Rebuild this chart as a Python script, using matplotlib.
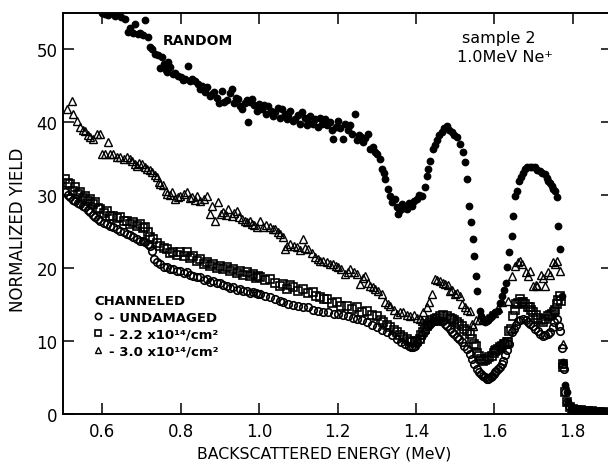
import matplotlib
matplotlib.use('Agg')
import matplotlib.pyplot as plt

# RANDOM spectrum (filled dots)
rand_e = [0.600, 0.608, 0.615, 0.622, 0.633, 0.640, 0.648, 0.659, 0.666, 0.672,
          0.678, 0.684, 0.690, 0.697, 0.703, 0.710, 0.717, 0.722, 0.728, 0.735,
          0.741, 0.748, 0.753, 0.758, 0.762, 0.766, 0.768, 0.774, 0.780, 0.786,
          0.794, 0.800, 0.806, 0.811, 0.819, 0.824, 0.830, 0.837, 0.843, 0.849,
          0.855, 0.862, 0.868, 0.874, 0.880, 0.886, 0.893, 0.899, 0.906, 0.911,
          0.918, 0.925, 0.931, 0.937, 0.942, 0.947, 0.952, 0.957, 0.963, 0.968,
          0.972, 0.977, 0.982, 0.988, 0.994, 1.000, 1.008, 1.013, 1.018, 1.023,
          1.030, 1.036, 1.041, 1.047, 1.053, 1.059, 1.065, 1.070, 1.074, 1.080,
          1.086, 1.092, 1.098, 1.104, 1.110, 1.116, 1.121, 1.125, 1.131, 1.137,
          1.143, 1.149, 1.155, 1.161, 1.168, 1.174, 1.180, 1.186, 1.189, 1.195,
          1.201, 1.207, 1.214, 1.220, 1.226, 1.232, 1.238, 1.245, 1.250, 1.255,
          1.260, 1.265, 1.270, 1.278, 1.283, 1.290, 1.296, 1.300, 1.308, 1.313,
          1.318, 1.321, 1.329, 1.334, 1.340, 1.347, 1.351, 1.354, 1.359, 1.364,
          1.370, 1.377, 1.383, 1.390, 1.396, 1.403, 1.409, 1.415, 1.423, 1.428,
          1.432, 1.436, 1.443, 1.448, 1.454, 1.460, 1.466, 1.472, 1.479, 1.485,
          1.492, 1.498, 1.504, 1.512, 1.520, 1.525, 1.530, 1.535, 1.540, 1.545,
          1.548, 1.553, 1.555, 1.563, 1.567, 1.571, 1.576, 1.581, 1.585, 1.589,
          1.593, 1.596, 1.602, 1.609, 1.614, 1.619, 1.625, 1.629, 1.632, 1.637,
          1.645, 1.647, 1.652, 1.657, 1.662, 1.668, 1.673, 1.678, 1.684, 1.690,
          1.697, 1.703, 1.710, 1.716, 1.722, 1.729, 1.734, 1.736, 1.741, 1.746,
          1.750, 1.754, 1.759, 1.762, 1.767, 1.772, 1.776, 1.781, 1.785, 1.789,
          1.795, 1.800, 1.810, 1.820, 1.830, 1.840, 1.850, 1.860, 1.870, 1.880]
rand_y = [55.0, 54.8, 54.7, 55.0, 54.6, 54.8, 54.5, 54.2, 52.4, 53.0,
          52.3, 53.5, 52.1, 52.2, 52.0, 54.0, 51.7, 50.4, 50.0, 49.4,
          49.2, 47.4, 49.0, 48.0, 47.2, 46.9, 48.3, 47.6, 46.6, 46.8,
          46.4, 46.2, 45.8, 46.0, 47.7, 45.6, 45.9, 45.7, 45.3, 44.6,
          45.0, 44.2, 44.8, 43.6, 43.9, 44.2, 43.4, 42.6, 44.3, 42.8,
          43.0, 44.0, 44.6, 42.6, 43.4, 43.2, 42.2, 41.8, 42.6, 43.0,
          40.0, 42.8, 43.2, 42.4, 41.6, 42.5, 41.8, 42.4, 41.2, 42.2,
          41.6, 40.8, 41.4, 42.0, 40.6, 41.8, 41.2, 40.4, 40.9, 41.6,
          40.2, 40.5, 41.0, 39.8, 41.4, 40.6, 39.6, 40.0, 40.8, 39.8,
          40.5, 39.4, 40.6, 39.7, 40.5, 39.6, 40.0, 38.9, 37.7, 39.4,
          40.2, 39.2, 37.7, 39.8, 38.9, 39.6, 38.4, 41.1, 37.5, 38.2,
          38.0, 37.3, 37.8, 38.4, 36.3, 36.6, 35.9, 35.6, 35.0, 33.6,
          33.0, 32.2, 30.9, 29.9, 29.0, 29.5, 28.4, 27.4, 28.0, 28.8,
          28.2, 28.1, 28.9, 28.5, 29.2, 29.5, 30.0, 29.9, 31.1, 32.6,
          33.6, 34.7, 36.3, 36.9, 37.5, 38.2, 38.7, 39.2, 39.5, 38.9,
          38.7, 38.3, 38.0, 37.0, 35.9, 34.6, 32.2, 28.5, 26.3, 24.0,
          21.7, 18.9, 16.8, 14.1, 13.4, 13.0, 12.6, 12.7, 12.9, 13.2,
          13.4, 13.7, 13.9, 14.1, 15.2, 16.2, 17.0, 18.0, 20.1, 22.2,
          24.4, 27.1, 29.9, 30.6, 31.9, 32.5, 33.1, 33.6, 33.8, 33.8,
          33.9, 33.8, 33.5, 33.3, 33.1, 32.9, 32.4, 31.9, 31.6, 31.3,
          30.9, 30.6, 29.7, 25.8, 22.6, 16.2, 7.1, 4.0, 3.0, 1.6,
          0.9, 0.6, 0.5, 0.5, 0.4, 0.4, 0.4, 0.3, 0.3, 0.3]

# channeled, undamaged (open circles)
und_e = [0.506, 0.512, 0.518, 0.525, 0.531, 0.538, 0.544, 0.550, 0.557, 0.563,
         0.569, 0.576, 0.582, 0.589, 0.595, 0.604, 0.613, 0.620, 0.628, 0.637,
         0.646, 0.655, 0.664, 0.672, 0.679, 0.688, 0.697, 0.703, 0.710, 0.717,
         0.723, 0.728, 0.733, 0.739, 0.748, 0.757, 0.766, 0.774, 0.781, 0.790,
         0.799, 0.808, 0.817, 0.825, 0.832, 0.841, 0.850, 0.859, 0.868, 0.875,
         0.883, 0.892, 0.901, 0.909, 0.918, 0.926, 0.934, 0.943, 0.952, 0.960,
         0.969, 0.977, 0.985, 0.991, 0.997, 1.003, 1.015, 1.028, 1.040, 1.053,
         1.062, 1.074, 1.087, 1.100, 1.112, 1.125, 1.138, 1.150, 1.162, 1.176,
         1.190, 1.201, 1.214, 1.226, 1.239, 1.250, 1.262, 1.275, 1.288, 1.301,
         1.314, 1.326, 1.340, 1.352, 1.362, 1.372, 1.382, 1.387, 1.393, 1.397,
         1.403, 1.410, 1.415, 1.423, 1.430, 1.436, 1.443, 1.450, 1.456, 1.462,
         1.468, 1.474, 1.479, 1.486, 1.492, 1.498, 1.504, 1.510, 1.517, 1.523,
         1.530, 1.537, 1.543, 1.548, 1.555, 1.560, 1.566, 1.571, 1.576, 1.581,
         1.583, 1.587, 1.591, 1.594, 1.598, 1.601, 1.605, 1.609, 1.614, 1.619,
         1.622, 1.627, 1.632, 1.638, 1.645, 1.650, 1.656, 1.660, 1.666, 1.673,
         1.680, 1.685, 1.691, 1.698, 1.704, 1.711, 1.717, 1.724, 1.730, 1.736,
         1.743, 1.749, 1.753, 1.759, 1.764, 1.767, 1.772, 1.774, 1.777, 1.780,
         1.785, 1.790, 1.797, 1.805, 1.815, 1.825, 1.835, 1.845, 1.855, 1.865,
         1.875, 1.885]
und_y = [30.4, 30.0, 29.7, 29.4, 29.2, 28.9, 28.8, 28.5, 28.4, 28.0,
         27.7, 27.3, 27.0, 26.7, 26.4, 26.2, 26.0, 25.8, 25.6, 25.3,
         25.1, 24.9, 24.7, 24.5, 24.3, 24.0, 23.7, 23.7, 23.6, 23.3,
         23.0, 22.4, 21.2, 20.8, 20.5, 20.2, 20.1, 19.8, 19.9, 19.6,
         19.6, 19.3, 19.4, 19.0, 18.9, 18.8, 18.7, 18.4, 18.5, 18.1,
         18.2, 17.9, 18.0, 17.6, 17.5, 17.3, 17.4, 17.0, 17.1, 16.8,
         16.8, 16.6, 16.7, 16.5, 16.4, 16.4, 16.1, 16.0, 15.7, 15.5,
         15.3, 15.0, 14.9, 14.8, 14.7, 14.6, 14.3, 14.1, 14.0, 13.9,
         13.7, 13.7, 13.5, 13.4, 13.1, 13.0, 12.8, 12.6, 12.2, 11.9,
         11.5, 11.2, 10.8, 10.2, 9.8, 9.5, 9.3, 9.1, 9.2, 9.3,
         9.7, 10.2, 10.8, 11.3, 12.0, 12.3, 12.7, 12.7, 12.8, 12.7,
         12.7, 12.3, 12.0, 11.6, 11.2, 10.9, 10.5, 10.2, 9.8, 9.3,
         8.9, 8.2, 7.5, 6.8, 6.1, 5.7, 5.4, 5.2, 5.0, 4.8,
         4.7, 4.9, 5.1, 5.2, 5.5, 5.7, 5.9, 6.1, 6.4, 6.8,
         7.2, 8.0, 8.8, 9.6, 11.2, 11.6, 12.2, 12.7, 12.9, 13.0,
         12.8, 12.6, 12.3, 12.0, 11.6, 11.3, 11.0, 10.7, 10.8, 10.9,
         11.2, 11.9, 12.6, 13.0, 12.0, 11.3, 9.0, 6.8, 6.2, 3.0,
         1.6, 1.0, 0.7, 0.5, 0.5, 0.4, 0.4, 0.4, 0.3, 0.3,
         0.3, 0.3]

# channeled, 2.2e14 /cm2 (open squares)
d22_e = [0.506, 0.512, 0.518, 0.525, 0.531, 0.538, 0.544, 0.550, 0.557, 0.563,
         0.569, 0.576, 0.582, 0.589, 0.595, 0.604, 0.613, 0.620, 0.628, 0.637,
         0.646, 0.655, 0.664, 0.672, 0.679, 0.688, 0.697, 0.703, 0.710, 0.717,
         0.723, 0.730, 0.739, 0.748, 0.757, 0.766, 0.774, 0.781, 0.790, 0.799,
         0.808, 0.817, 0.825, 0.832, 0.841, 0.850, 0.859, 0.868, 0.875, 0.883,
         0.892, 0.901, 0.909, 0.918, 0.926, 0.934, 0.943, 0.952, 0.960, 0.969,
         0.977, 0.985, 0.991, 0.997, 1.003, 1.015, 1.028, 1.040, 1.053, 1.062,
         1.071, 1.080, 1.087, 1.100, 1.112, 1.125, 1.138, 1.146, 1.155, 1.165,
         1.173, 1.185, 1.199, 1.210, 1.224, 1.237, 1.250, 1.262, 1.275, 1.288,
         1.301, 1.310, 1.316, 1.325, 1.334, 1.343, 1.352, 1.360, 1.367, 1.376,
         1.385, 1.391, 1.397, 1.404, 1.410, 1.414, 1.418, 1.423, 1.428, 1.432,
         1.436, 1.442, 1.448, 1.455, 1.461, 1.470, 1.479, 1.486, 1.492, 1.498,
         1.504, 1.510, 1.517, 1.523, 1.530, 1.537, 1.543, 1.548, 1.552, 1.556,
         1.560, 1.565, 1.570, 1.576, 1.581, 1.587, 1.594, 1.598, 1.601, 1.605,
         1.609, 1.614, 1.619, 1.624, 1.627, 1.631, 1.634, 1.638, 1.642, 1.647,
         1.652, 1.656, 1.660, 1.665, 1.670, 1.673, 1.678, 1.685, 1.690, 1.694,
         1.698, 1.705, 1.711, 1.718, 1.724, 1.730, 1.736, 1.741, 1.746, 1.751,
         1.754, 1.759, 1.763, 1.767, 1.771, 1.774, 1.776, 1.780, 1.785, 1.792,
         1.800, 1.810, 1.820, 1.830, 1.840, 1.850, 1.860, 1.870, 1.880]
d22_y = [32.2, 31.6, 31.5, 30.6, 31.1, 30.2, 30.4, 29.6, 29.9, 29.2,
         29.5, 28.8, 29.0, 28.3, 28.1, 27.6, 27.8, 27.2, 27.1, 26.8,
         27.0, 26.4, 26.4, 26.0, 26.3, 25.8, 26.0, 25.5, 25.6, 24.9,
         24.3, 24.0, 23.4, 23.0, 22.8, 22.6, 22.0, 22.2, 21.8, 22.2,
         21.6, 22.2, 21.4, 21.6, 20.9, 21.2, 20.6, 20.8, 20.3, 20.5,
         20.0, 20.3, 19.8, 20.1, 19.6, 19.9, 19.3, 19.6, 19.1, 19.4,
         18.9, 19.2, 18.6, 18.9, 18.7, 18.3, 18.5, 17.9, 17.5, 17.8,
         17.1, 17.6, 17.4, 16.8, 17.1, 16.5, 16.7, 16.2, 16.0, 15.8,
         15.7, 15.2, 15.3, 14.8, 14.8, 14.4, 14.6, 14.0, 14.1, 13.6,
         13.4, 12.9, 12.6, 12.2, 11.9, 11.5, 11.2, 10.8, 10.5, 10.3,
         10.0, 9.9, 9.8, 10.0, 10.2, 10.8, 11.2, 11.6, 12.0, 12.3,
         12.6, 12.9, 13.0, 13.2, 13.4, 13.5, 13.4, 13.2, 13.0, 12.8,
         12.6, 12.3, 12.0, 11.6, 11.3, 10.9, 10.2, 9.6, 9.3, 8.4,
         7.9, 7.5, 7.2, 7.4, 7.5, 7.8, 7.9, 8.4, 8.6, 8.8,
         8.9, 9.1, 9.3, 9.5, 9.6, 9.8, 9.8, 11.3, 11.6, 13.4,
         14.2, 15.0, 15.2, 15.7, 15.4, 15.3, 15.1, 14.6, 14.6, 14.2,
         13.9, 13.5, 13.2, 12.9, 12.6, 13.0, 13.4, 13.5, 13.7, 14.0,
         14.3, 15.0, 15.6, 16.2, 15.5, 6.8, 6.4, 3.0, 1.6, 0.9,
         0.6, 0.5, 0.5, 0.4, 0.4, 0.4, 0.3, 0.3, 0.3]

# channeled, 3.0e14 /cm2 (open triangles)
d30_e = [0.511, 0.524, 0.526, 0.536, 0.544, 0.550, 0.557, 0.563, 0.569, 0.577,
         0.587, 0.595, 0.600, 0.607, 0.615, 0.620, 0.628, 0.637, 0.646, 0.655,
         0.664, 0.670, 0.676, 0.683, 0.689, 0.695, 0.702, 0.708, 0.715, 0.721,
         0.727, 0.734, 0.740, 0.744, 0.748, 0.755, 0.762, 0.766, 0.772, 0.778,
         0.786, 0.792, 0.799, 0.808, 0.817, 0.823, 0.829, 0.837, 0.842, 0.850,
         0.859, 0.868, 0.875, 0.880, 0.888, 0.896, 0.902, 0.908, 0.915, 0.921,
         0.931, 0.937, 0.944, 0.950, 0.957, 0.963, 0.969, 0.976, 0.982, 0.988,
         0.995, 1.003, 1.010, 1.018, 1.028, 1.035, 1.041, 1.047, 1.053, 1.060,
         1.066, 1.072, 1.079, 1.088, 1.097, 1.104, 1.112, 1.118, 1.125, 1.134,
         1.143, 1.150, 1.155, 1.164, 1.173, 1.180, 1.189, 1.195, 1.201, 1.210,
         1.219, 1.226, 1.232, 1.241, 1.250, 1.257, 1.264, 1.270, 1.277, 1.283,
         1.290, 1.296, 1.304, 1.313, 1.321, 1.328, 1.334, 1.343, 1.352, 1.360,
         1.367, 1.376, 1.385, 1.394, 1.403, 1.410, 1.415, 1.418, 1.428, 1.433,
         1.441, 1.448, 1.455, 1.461, 1.468, 1.474, 1.481, 1.487, 1.493, 1.499,
         1.505, 1.512, 1.517, 1.525, 1.530, 1.538, 1.543, 1.545, 1.552, 1.560,
         1.570, 1.580, 1.590, 1.600, 1.610, 1.620, 1.635, 1.645, 1.652, 1.660,
         1.665, 1.670, 1.680, 1.685, 1.690, 1.698, 1.705, 1.710, 1.718, 1.724,
         1.729, 1.736, 1.741, 1.749, 1.754, 1.759, 1.767, 1.774, 1.795, 1.810,
         1.830, 1.850, 1.870]
d30_y = [41.8, 42.9, 41.1, 40.2, 39.4, 39.0, 38.8, 38.3, 38.0, 37.7,
         38.4, 38.4, 35.7, 35.7, 37.3, 35.6, 35.7, 35.3, 35.2, 35.0,
         35.2, 34.9, 34.7, 34.3, 34.0, 34.4, 34.3, 33.8, 33.6, 33.4,
         33.2, 32.8, 32.5, 31.8, 31.5, 31.4, 30.6, 30.2, 30.0, 30.4,
         29.5, 29.7, 29.9, 30.2, 30.4, 29.6, 29.7, 29.4, 29.9, 29.2,
         29.5, 29.9, 27.4, 28.5, 26.4, 29.0, 27.4, 27.7, 27.3, 28.1,
         27.1, 27.5, 27.8, 27.0, 26.7, 26.5, 26.3, 26.4, 26.0, 25.9,
         25.6, 26.4, 25.6, 25.9, 25.6, 25.3, 25.3, 25.0, 24.7, 24.2,
         22.6, 23.0, 23.3, 23.0, 22.9, 22.5, 24.0, 22.8, 22.6, 22.0,
         21.5, 21.3, 21.0, 20.9, 20.8, 20.6, 20.5, 20.3, 20.1, 19.8,
         19.2, 19.5, 19.8, 19.4, 19.2, 17.8, 18.6, 18.9, 18.0, 17.5,
         17.4, 17.1, 16.8, 16.4, 15.3, 15.0, 14.8, 14.3, 13.7, 13.9,
         13.9, 13.6, 13.4, 13.5, 13.2, 13.0, 12.7, 13.9, 14.6, 15.3,
         16.4, 18.5, 18.3, 18.2, 18.0, 17.8, 17.6, 16.8, 17.0, 16.4,
         16.6, 16.2, 15.0, 14.6, 14.3, 14.1, 12.3, 12.0, 12.8, 12.9,
         13.0, 13.2, 13.5, 13.8, 14.5, 15.4, 15.5, 18.9, 20.3, 20.8,
         21.0, 20.5, 19.4, 18.9, 19.6, 17.5, 17.6, 17.5, 19.0, 18.6,
         17.5, 19.4, 19.0, 20.8, 20.6, 21.0, 19.6, 9.6, 0.6, 0.5,
         0.4, 0.4, 0.3]

xticks = [0.6, 0.8, 1.0, 1.2, 1.4, 1.6, 1.8]
xticklabels = ['0.6', '0.8', '1.0', '1.2', '1.4', '1.6', '1.8']
yticks = [0, 10, 20, 30, 40, 50]

fig = plt.figure(figsize=(6.08, 4.64), dpi=100)
ax = fig.add_axes([63/608, 49.3/464, 549/608, 400.7/464])

tri, = ax.plot(d30_e, d30_y, '^', ms=5.6, mfc='none', mec='black', mew=1.0)
sq, = ax.plot(d22_e, d22_y, 's', ms=5.2, mfc='none', mec='black', mew=1.2)
circ, = ax.plot(und_e, und_y, 'o', ms=5.4, mfc='none', mec='black', mew=1.2)
ax.plot(rand_e, rand_y, 'o', ms=5.6, color='black', mew=0)

ax.set_xlim(0.5, 1.9)
ax.set_ylim(0, 55)
ax.set_xticks(xticks)
ax.set_xticklabels(xticklabels)
ax.set_yticks(yticks)
ax.tick_params(direction='in', length=8, width=1.1, top=True, right=True,
               labelsize=12)
ax.tick_params(axis='x', pad=6)
ax.tick_params(axis='y', pad=4)
for s in ax.spines.values():
    s.set_linewidth(1.4)

fig.text(324/608, 1 - 454/464, 'BACKSCATTERED ENERGY (MeV)', ha='center',
         va='center', fontsize=11.3)
fig.text(18/608, 1 - 230/464, 'NORMALIZED YIELD', rotation=90, ha='center',
         va='center', fontsize=12)

fig.text(198/608, 1 - 41/464, 'RANDOM', fontsize=10, fontweight='bold',
         ha='center', va='center')
fig.text(499/608, 1 - 39/464, 'sample 2', ha='center', va='center', fontsize=11.5)
fig.text(505/608, 1 - 57/464, '1.0MeV Ne\u207a', ha='center', va='center',
         fontsize=11.5)

leg = ax.legend([circ, sq, tri],
                ['- UNDAMAGED', '- 2.2 x10\u00b9\u2074/cm\u00b2',
                 '- 3.0 x10\u00b9\u2074/cm\u00b2'],
                title='CHANNELED', loc='upper left',
                bbox_to_anchor=(31/549, (414.7-295)/400.7), frameon=False,
                borderpad=0, borderaxespad=0, handlelength=0.6,
                handletextpad=0.5, labelspacing=0.3, alignment='left',
                prop={'size': 9.5, 'weight': 'bold'},
                title_fontproperties={'size': 9.5, 'weight': 'bold'})
for h in leg.legend_handles:
    h.set_markersize(4.5)

fig.savefig('out.png', dpi=100)
